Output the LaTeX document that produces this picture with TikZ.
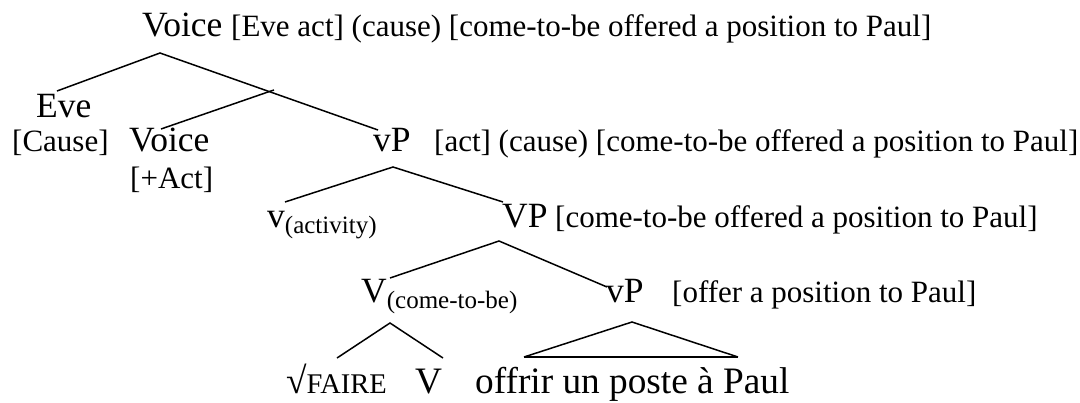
\documentclass[tikz,border=0pt]{standalone}
\usepackage{fontspec}
\setmainfont{Liberation Serif}
\newcommand\subtag[1]{\raisebox{-6pt}{\fontsize{25}{28}\selectfont #1}}
\begin{document}
\begin{tikzpicture}[x=1pt,y=-1pt,
  cat/.style={inner sep=0pt, anchor=base west, font=\fontsize{35.5}{40}\selectfont},
  ann/.style={inner sep=0pt, anchor=base west, font=\fontsize{31}{36}\selectfont},
  word/.style={inner sep=0pt, anchor=base west, font=\fontsize{37.3}{43}\selectfont},
  branch/.style={line width=1.5pt},
  base/.style={line width=2.8pt}
]
\useasboundingbox (0,0) rectangle (1080,402);

% labels
\node[cat] (root) at (142,36) {Voice};
\node[ann] (rootann) at (231,36) {[Eve act] (cause) [come-to-be offered a position to Paul]};
\node[cat] (eve) at (36,117) {Eve};
\node[ann] (cause) at (12,151) {[Cause]};
\node[cat] (voice) at (129,151) {Voice};
\node[ann] (act) at (130,188) {[+Act]};
\node[cat] (vp1) at (373,151) {vP};
\node[ann] (vp1ann) at (434,151) {[act] (cause) [come-to-be offered a position to Paul]};
\node[cat] (vact) at (267,227) {v\subtag{(activity)}};
\node[cat] (VP) at (502,227) {VP};
\node[ann] (VPann) at (555,227) {[come-to-be offered a position to Paul]};
\node[cat] (Vc) at (361,302) {V\subtag{(come-to-be)}};
\node[cat] (vp2) at (606,302) {vP};
\node[ann] (vp2ann) at (672,302) {[offer a position to Paul]};
\node[word] (faire) at (286,393) {√{\fontsize{28.5}{32}\selectfont FAIRE}};
\node[word] (vhead) at (415,393) {V};
\node[word] (offrir) at (475,393) {offrir un poste à Paul};

% attachment points
\coordinate (root-b) at (160,53);
\coordinate (eve-t) at (57,91);
\coordinate (bar-b) at (268,92);
\coordinate (voice-t) at (161,129);
\coordinate (vp1-t) at (378,130);
\coordinate (vp1-b) at (393,167);
\coordinate (vact-t) at (285,202);
\coordinate (VP-t) at (503,202);
\coordinate (VP-b) at (499,241);
\coordinate (Vc-t) at (390,278);
\coordinate (vp2-t) at (607,287);
\coordinate (Vc-b) at (390,323);
\coordinate (faire-t) at (337,358);
\coordinate (vhead-t) at (443,358);
\coordinate (vp2-b) at (632,322);
\coordinate (tri-l) at (524,357);
\coordinate (tri-r) at (738,357);

% branches
\draw[branch] (eve-t) -- (root-b) -- (vp1-t);
\draw[branch] (voice-t) -- (bar-b) -- ++(6,-2);
\draw[branch] (vact-t) -- (vp1-b) -- (VP-t);
\draw[branch] (Vc-t) -- (VP-b) -- (vp2-t);
\draw[branch] (faire-t) -- (Vc-b) -- (vhead-t);
\draw[branch] (tri-l) -- (vp2-b) -- (tri-r);
\draw[base] (tri-l) -- (tri-r);
\end{tikzpicture}
\end{document}
